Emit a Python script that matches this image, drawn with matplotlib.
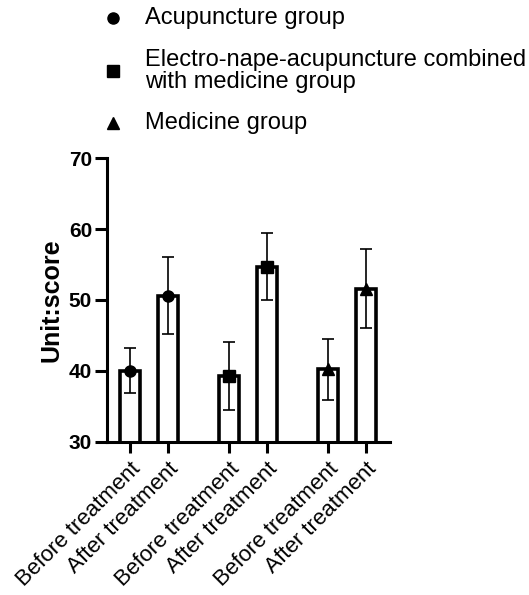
import matplotlib

matplotlib.use("Agg")
import matplotlib.pyplot as plt
from matplotlib.lines import Line2D

plt.rcParams["font.family"] = ["Liberation Sans", "DejaVu Sans"]

# data
groups = ["Acupuncture group", "Electro-nape-acupuncture combined\nwith medicine group", "Medicine group"]
markers = ["o", "s", "^"]
tick_labels = ["Before treatment", "After treatment"] * 3
means = [40.0, 50.6, 39.2, 54.7, 40.2, 51.6]
errs = [3.2, 5.4, 4.8, 4.7, 4.3, 5.6]

fig = plt.figure(figsize=(5.29, 5.95), dpi=100)
ax = fig.add_axes([0.2017, 0.2577, 0.5354, 0.4763])

xs = []
for g in range(len(groups)):
    xs += [g * 2.6, g * 2.6 + 1]

ax.bar(xs, means, width=0.53, bottom=0, color="white", edgecolor="black", linewidth=2.6, zorder=2)
ax.errorbar(xs, means, yerr=errs, fmt="none", ecolor="black", elinewidth=1.2, capsize=4.5, capthick=1.2, zorder=3)
for i, (x, m) in enumerate(zip(xs, means)):
    ax.plot(x, m, marker=markers[i // 2], color="black", markersize=8, zorder=4)

ax.set_ylim(30, 70)
ax.set_xlim(-0.61, 6.84)
ax.set_yticks([30, 40, 50, 60, 70])
ax.set_xticks(xs)
ax.set_xticklabels(tick_labels, rotation=45, ha="right", rotation_mode="anchor", fontsize=16)
for lab in ax.get_yticklabels():
    lab.set_fontweight("bold")
    lab.set_fontsize(15)
ax.set_ylabel("Unit:score", fontsize=18, fontweight="bold", labelpad=4)

for s in ["top", "right"]:
    ax.spines[s].set_visible(False)
for s in ["left", "bottom"]:
    ax.spines[s].set_linewidth(2.2)
ax.tick_params(axis="y", length=8.5, width=2.2, pad=2)
ax.tick_params(axis="x", length=8, width=2.2, pad=4)

# legend drawn by hand at the top
leg_y = [0.970, 0.881, 0.794]
for g, (name, mk) in enumerate(zip(groups, markers)):
    fig.add_artist(Line2D([113 / 529], [leg_y[g]], marker=mk, color="black", markersize=8,
                          linestyle="none", transform=fig.transFigure))
    fig.text(145 / 529, leg_y[g], name, fontsize=17, va="center", ha="left", linespacing=1.0)

fig.savefig("out.png", dpi=100)
